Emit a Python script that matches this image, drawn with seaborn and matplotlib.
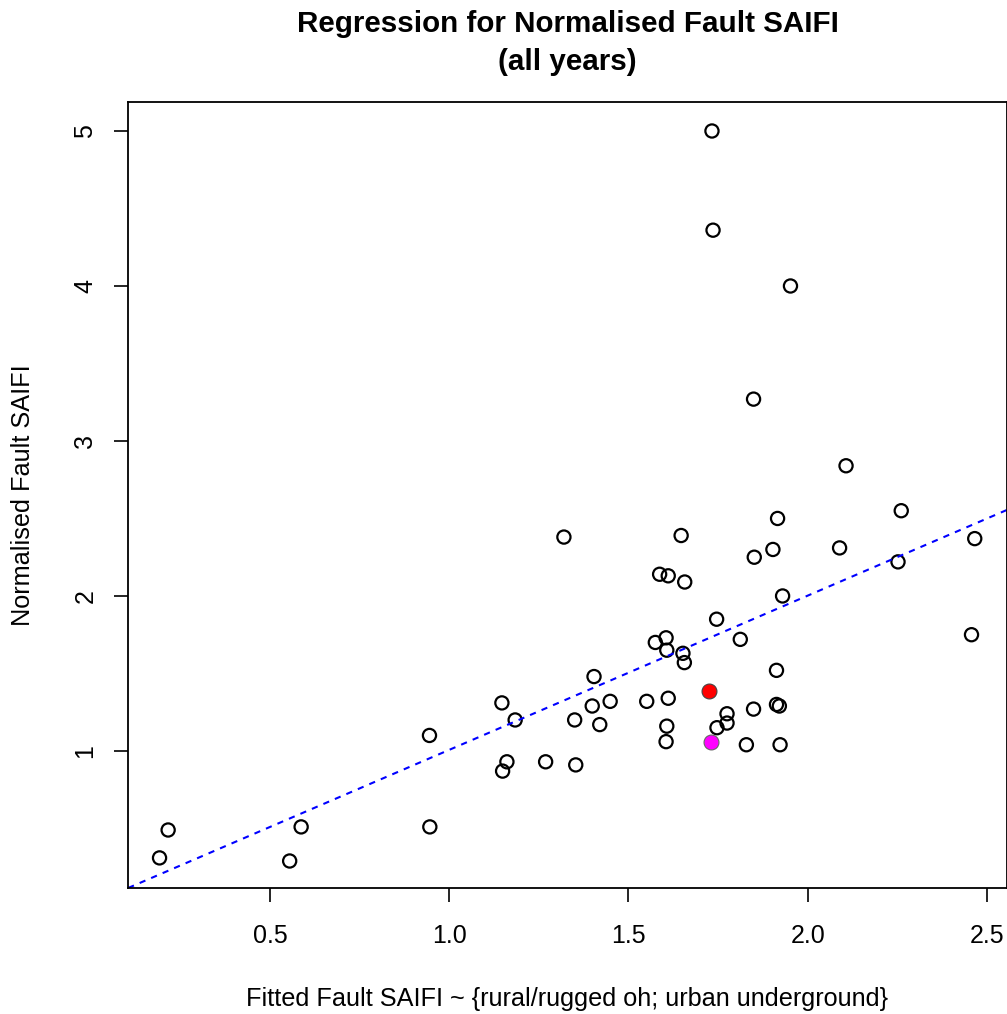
import matplotlib
matplotlib.use("Agg")
import matplotlib.pyplot as plt
import seaborn as sns
import pandas as pd

# Open-circle observations
fitted = [0.216, 0.192, 0.587, 0.555, 0.945, 0.946, 1.147, 1.184, 1.161, 1.149,
          1.269, 1.350, 1.353, 1.320, 1.647, 1.916, 2.261, 2.466, 2.089, 1.903,
          1.851, 2.252, 1.587, 1.611, 1.657, 1.930, 1.746, 1.812, 2.457, 1.605,
          1.575, 1.607, 1.652, 1.656, 1.404, 1.913, 1.399, 1.449, 1.551, 1.611,
          1.420, 1.607, 1.605, 1.775, 1.775, 1.747, 1.849, 1.913, 1.921, 1.829,
          1.923, 1.733, 1.736, 1.952, 1.849, 2.107]
observed = [0.49, 0.31, 0.51, 0.29, 1.10, 0.51, 1.31, 1.20, 0.93, 0.87,
            0.93, 1.20, 0.91, 2.38, 2.39, 2.50, 2.55, 2.37, 2.31, 2.30,
            2.25, 2.22, 2.14, 2.13, 2.09, 2.00, 1.85, 1.72, 1.75, 1.73,
            1.70, 1.65, 1.63, 1.57, 1.48, 1.52, 1.29, 1.32, 1.32, 1.34,
            1.17, 1.16, 1.06, 1.24, 1.18, 1.15, 1.27, 1.30, 1.29, 1.04,
            1.04, 5.00, 4.36, 4.00, 3.27, 2.84]

# Highlighted observations
red_fitted = [1.725]
red_observed = [1.39]
magenta_fitted = [1.729]
magenta_observed = [1.06]

# Regression line y = a + b x
intercept = 0.012
slope = 0.995

title = "Regression for Normalised Fault SAIFI\n(all years)"
xlabel = "Fitted Fault SAIFI ~ {rural/rugged oh; urban underground}"
ylabel = "Normalised Fault SAIFI"
xticks = [0.5, 1.0, 1.5, 2.0, 2.5]
xticklabels = ["0.5", "1.0", "1.5", "2.0", "2.5"]
yticks = [1, 2, 3, 4, 5]
yticklabels = ["1", "2", "3", "4", "5"]

sns.set_style("white")
plt.rcParams["font.family"] = ["Liberation Sans", "DejaVu Sans"]
plt.rcParams["text.color"] = "black"
plt.rcParams["axes.labelcolor"] = "black"
plt.rcParams["xtick.color"] = "black"
plt.rcParams["ytick.color"] = "black"

fig = plt.figure(figsize=(10.07, 10.14), dpi=100)
ax = fig.add_axes([0.1271, 0.1243, 0.8729, 0.7751])

df = pd.DataFrame({"fitted": fitted, "observed": observed})
sns.scatterplot(data=df, x="fitted", y="observed", ax=ax, s=90,
                facecolors="none", edgecolor="black", linewidth=1.6, marker="o")
sns.scatterplot(x=red_fitted, y=red_observed, ax=ax, s=115, color="#ff0000",
                edgecolor="#444444", linewidth=0.8)
sns.scatterplot(x=magenta_fitted, y=magenta_observed, ax=ax, s=115, color="#ff00ff",
                edgecolor="#666666", linewidth=0.8)

ax.axline((0, intercept), slope=slope, color="#0000ff", linestyle=(0, (3, 3)),
          linewidth=1.5, zorder=1)

ax.set_xlim(0.104, 2.556)
ax.set_ylim(0.116, 5.187)
ax.set_xticks(xticks)
ax.set_xticklabels(xticklabels)
ax.set_yticks(yticks)
ax.set_yticklabels(yticklabels, rotation=90, va="center")

for sp in ax.spines.values():
    sp.set_visible(True)
    sp.set_color("black")
    sp.set_linewidth(1.3)

ax.tick_params(axis="both", which="major", direction="out", length=10, width=1.2,
               color="black", labelcolor="black", labelsize=18, bottom=True, left=True)
ax.tick_params(axis="x", pad=16)
ax.tick_params(axis="y", pad=12)

ax.set_xlabel(xlabel, fontsize=18.2, labelpad=28, color="black")
ax.set_ylabel(ylabel, fontsize=18.2, labelpad=28, color="black")
fig.text(0.5635, 0.958, title, ha="center", va="center", fontsize=21.3,
         fontweight="bold", linespacing=1.45, color="black")

fig.savefig("out.png", dpi=100)
